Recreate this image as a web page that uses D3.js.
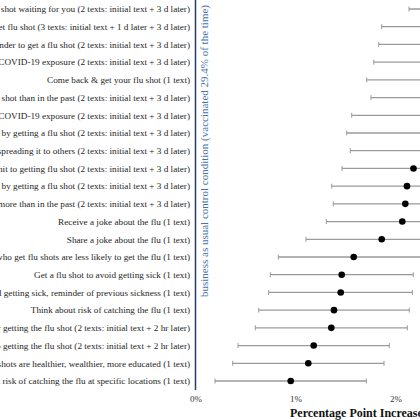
<!DOCTYPE html>
<html>
<head>
<meta charset="utf-8">
<script src="https://cdn.jsdelivr.net/npm/d3@7"></script>
<style>
  html, body { margin: 0; padding: 0; background: #fff; }
  svg { display: block; }
</style>
</head>
<body>
<svg id="chart" width="420" height="420"></svg>
<script>
const labels = [
  "Flu shot waiting for you (2 texts: initial text + 3 d later)",
  "Reminders to get flu shot (3 texts: initial text + 1 d later + 3 d later)",
  "Friendly reminder to get a flu shot (2 texts: initial text + 3 d later)",
  "Flu shot & risk of COVID-19 exposure (2 texts: initial text + 3 d later)",
  "Come back & get your flu shot (1 text)",
  "More important to get a flu shot than in the past (2 texts: initial text + 3 d later)",
  "Flu shot reduces risk of COVID-19 exposure (2 texts: initial text + 3 d later)",
  "Protect yourself by getting a flu shot (2 texts: initial text + 3 d later)",
  "Avoid catching the flu & spreading it to others (2 texts: initial text + 3 d later)",
  "Commit to getting flu shot (2 texts: initial text + 3 d later)",
  "Protect your loved ones by getting a flu shot (2 texts: initial text + 3 d later)",
  "Flu shots matter more than in the past (2 texts: initial text + 3 d later)",
  "Receive a joke about the flu (1 text)",
  "Share a joke about the flu (1 text)",
  "People who get flu shots are less likely to get the flu (1 text)",
  "Get a flu shot to avoid getting sick (1 text)",
  "Avoid getting sick, reminder of previous sickness (1 text)",
  "Think about risk of catching the flu (1 text)",
  "Make a plan for getting the flu shot (2 texts: initial text + 2 hr later)",
  "Commit to getting the flu shot (2 texts: initial text + 2 hr later)",
  "People who get flu shots are healthier, wealthier, more educated (1 text)",
  "Think about risk of catching the flu at specific locations (1 text)"
];
// percentage point increase estimates and 95% CI bounds
const estimates = [2.89, 2.61, 2.58, 2.53, 2.46, 2.50, 2.34, 2.32, 2.30, 2.18, 2.115, 2.098, 2.068, 1.862, 1.582, 1.462, 1.452, 1.385, 1.358, 1.182, 1.128, 0.952];
const lowers    = [2.135, 1.862, 1.832, 1.782, 1.712, 1.755, 1.562, 1.512, 1.548, 1.465, 1.362, 1.378, 1.308, 1.105, 0.828, 0.748, 0.732, 0.632, 0.598, 0.425, 0.372, 0.195];
const uppers    = [3.65, 3.36, 3.33, 3.28, 3.21, 3.25, 3.12, 3.13, 3.05, 2.90, 2.87, 2.82, 2.83, 2.62, 2.336, 2.178, 2.168, 2.138, 2.118, 1.938, 1.885, 1.708];
const tickValues = [0, 1, 2];
const controlNote = "business as usual control condition (vaccinated 29.4% of the time)";
const xTitle = "Percentage Point Increase";

const data = labels.map((l, i) => ({label: l, est: estimates[i], lo: lowers[i], hi: uppers[i]}));

const svg = d3.select("#chart");
const serif = "'Liberation Serif', 'Times New Roman', Times, serif";

const x = d3.scaleLinear().domain([0, 2]).range([195.5, 395.5]);
const y = d3.scalePoint().domain(labels).range([9, 381]);

// whiskers
const g = svg.append("g");
const rows = g.selectAll("g.row").data(data).join("g").attr("class", "row");
rows.append("line")
  .attr("x1", d => x(d.lo)).attr("x2", d => x(d.hi))
  .attr("y1", d => y(d.label)).attr("y2", d => y(d.label))
  .attr("stroke", "#9a9a9a").attr("stroke-width", 1.3);
rows.append("line")
  .attr("x1", d => x(d.lo)).attr("x2", d => x(d.lo))
  .attr("y1", d => y(d.label) - 2.5).attr("y2", d => y(d.label) + 2.5)
  .attr("stroke", "#9a9a9a").attr("stroke-width", 1);
rows.append("line")
  .attr("x1", d => x(d.hi)).attr("x2", d => x(d.hi))
  .attr("y1", d => y(d.label) - 2.5).attr("y2", d => y(d.label) + 2.5)
  .attr("stroke", "#9a9a9a").attr("stroke-width", 1);
rows.append("circle")
  .attr("cx", d => x(d.est)).attr("cy", d => y(d.label))
  .attr("r", 3.3).attr("fill", "#000");

// category labels
svg.append("g").selectAll("text").data(data).join("text")
  .attr("x", 190).attr("y", d => y(d.label))
  .attr("dy", "0.35em")
  .attr("text-anchor", "end")
  .attr("font-family", serif).attr("font-size", 9.2)
  .attr("fill", "#1e1e1e")
  .text(d => d.label);

// zero / control line
svg.append("line")
  .attr("x1", x(0)).attr("x2", x(0))
  .attr("y1", 0).attr("y2", 390)
  .attr("stroke", "#263f60").attr("stroke-width", 1.5);

svg.append("text")
  .attr("transform", `translate(${x(0) + 9},151) rotate(-90)`)
  .attr("text-anchor", "middle")
  .attr("dy", "0.35em")
  .attr("font-family", serif).attr("font-size", 11)
  .attr("fill", "#3f73ad")
  .text(controlNote);

// x axis
const xAxis = d3.axisBottom(x).tickValues(tickValues).tickSize(0).tickFormat(d => d + "%");
const ax = svg.append("g").attr("transform", "translate(0,393)").call(xAxis);
ax.select(".domain").remove();
ax.selectAll("text")
  .attr("font-family", serif).attr("font-size", 9).attr("fill", "#333");

svg.append("text")
  .attr("x", 290).attr("y", 417)
  .attr("font-family", serif).attr("font-size", 12).attr("font-weight", "bold")
  .attr("fill", "#111")
  .text(xTitle);
</script>
</body>
</html>
